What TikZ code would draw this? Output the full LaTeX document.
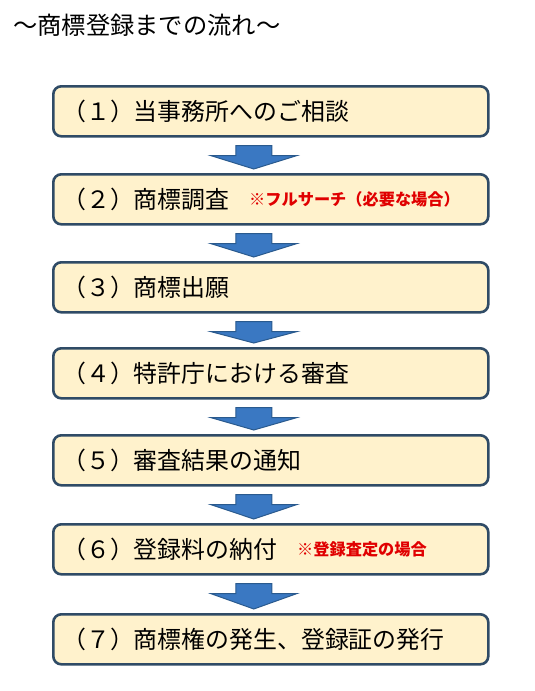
\documentclass[tikz,border=0pt]{standalone}
\usepackage{fontspec}
\setmainfont{Noto Sans CJK JP}
\usetikzlibrary{calc}
\definecolor{boxfill}{HTML}{FFF2CC}
\definecolor{boxline}{HTML}{2F4B66}
\definecolor{arrfill}{HTML}{3A78C2}
\definecolor{arrline}{HTML}{2A5A8E}
\definecolor{notered}{HTML}{E00000}
\tikzset{
  stepbox/.style={draw=boxline, line width=2.6pt, fill=boxfill, rounded corners=8pt,
    minimum width=435pt, minimum height=50pt, inner sep=0pt},
  steptext/.style={anchor=west, font=\fontsize{23.9}{25}\selectfont, inner sep=0pt},
  notetext/.style={anchor=west, font=\fontsize{16.2}{18}\selectfont\bfseries, text=notered, inner sep=0pt},
  blockarrow/.style={fill=arrfill, draw=arrline, line width=1pt, line join=miter},
}
\begin{document}
\begin{tikzpicture}[x=1pt,y=-1pt]
\useasboundingbox (0,0) rectangle (535,691);
\node[anchor=west, inner sep=0pt, font=\fontsize{24.3}{26}\selectfont] (title) at (13,25) {～商標登録までの流れ～};
\foreach \i/\t in {1/85,2/173,3/261,4/347,5/434,6/523,7/613}{
  \node[stepbox, anchor=north west] (b\i) at (52,\t) {};
}
\node[steptext] (t1) at ($(b1.west)+(10,0)$) {（１）当事務所へのご相談};
\node[steptext] (t2) at ($(b2.west)+(10,0)$) {（２）商標調査};
\node[notetext] (n2) at ($(b2.west)+(197,0)$) {※フルサーチ（必要な場合）};
\node[steptext] (t3) at ($(b3.west)+(10,0)$) {（３）商標出願};
\node[steptext] (t4) at ($(b4.west)+(10,0)$) {（４）特許庁における審査};
\node[steptext] (t5) at ($(b5.west)+(10,0)$) {（５）審査結果の通知};
\node[steptext] (t6) at ($(b6.west)+(10,0)$) {（６）登録料の納付};
\node[notetext] (n6) at ($(b6.west)+(245,0)$) {※登録査定の場合};
\node[steptext] (t7) at ($(b7.west)+(10,0)$) {（７）商標権の発生、登録証の発行};
\foreach \a/\b in {1/2,2/3,3/4,4/5,5/6,6/7}{
  \coordinate (top\a) at ($(b\a.south)+(-17,8)$);
  \coordinate (tip\a) at ($(b\b.north)+(-17,-4)$);
  \draw[blockarrow]
    ($(top\a)+(-18,0)$) -- ($(top\a)+(18,0)$) -- ($(top\a)+(18,10)$) -- ($(top\a)+(43,10)$)
    -- (tip\a) -- ($(top\a)+(-43,10)$) -- ($(top\a)+(-18,10)$) -- cycle;
}
\end{tikzpicture}
\end{document}
